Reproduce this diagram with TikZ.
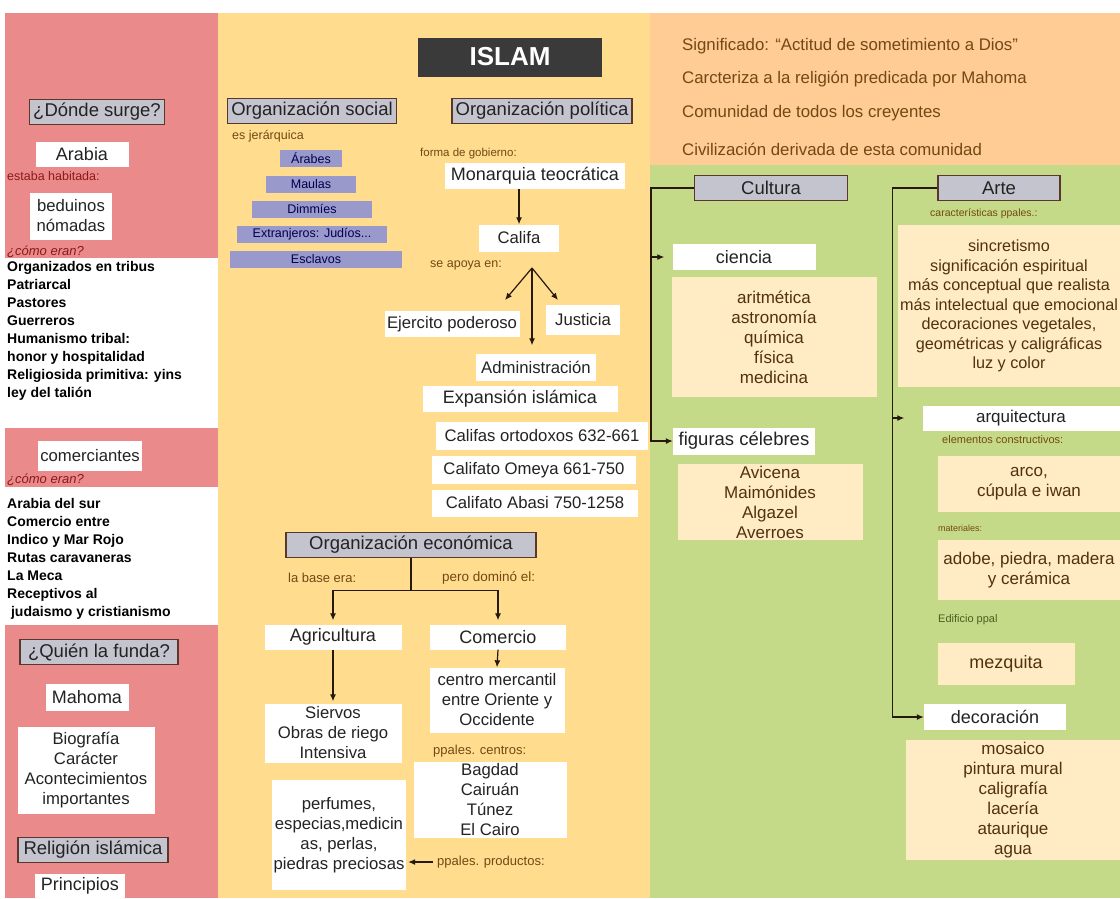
\documentclass[tikz,border=0pt]{standalone}
\usepackage{fontspec}
\setmainfont{Liberation Sans}
\usetikzlibrary{positioning,arrows.meta}

\definecolor{rojo}{RGB}{235,138,138}
\definecolor{amarillo}{RGB}{255,220,142}
\definecolor{naranja}{RGB}{255,204,150}
\definecolor{verde}{RGB}{197,218,137}
\definecolor{crema}{RGB}{255,235,196}
\definecolor{gris}{RGB}{196,196,206}
\definecolor{bordegris}{RGB}{90,55,45}
\definecolor{lila}{RGB}{153,153,204}
\definecolor{marron}{RGB}{115,72,20}
\definecolor{granate}{RGB}{140,25,25}
\definecolor{oliva}{RGB}{70,95,30}
\definecolor{tinta}{RGB}{35,35,35}
\definecolor{islamgris}{RGB}{58,58,58}

\tikzset{
	cabecera/.style={draw=bordegris, fill=gris, line width=1.2pt, minimum width=#1pt, minimum height=25pt, inner sep=0pt, text=tinta, font=\fontsize{18.5}{20}\selectfont},
	caja/.style 2 args={fill=white, minimum width=#1pt, minimum height=#2pt, inner sep=0pt, align=center, text=tinta, font=\fontsize{16.7}{20}\selectfont},
	grande/.style={font=\fontsize{18}{20}\selectfont},
	crem/.style 2 args={fill=crema, minimum width=#1pt, minimum height=#2pt, inner sep=0pt, align=center, text=marron!70!black, font=\fontsize{17}{20}\selectfont},
	piso/.style={fill=lila, minimum width=#1pt, minimum height=17pt, inner sep=0pt, text=black!70!blue, font=\fontsize{12.5}{13}\selectfont},
	nota/.style={anchor=west, inner sep=0pt, text=marron, font=\fontsize{12.5}{14}\selectfont},
	lista/.style={anchor=north west, align=left, inner sep=0pt, text=black, font=\bfseries\fontsize{14}{18}\selectfont},
	frase/.style={anchor=west, inner sep=0pt, text=marron, font=\fontsize{16.8}{18}\selectfont},
	flecha/.style={-{Latex[length=7pt,width=6pt]}, line width=1.2pt, draw=black!80!brown},
	linea/.style={line width=1.2pt, draw=black!80!brown}
}

\begin{document}
\begin{tikzpicture}[x=1pt, y=-1pt]
	\useasboundingbox (0,0) rectangle (1120,898);
	\fill[white] (0,0) rectangle (1120,898);
	\fill[rojo] (5,13) rectangle (218,898);
	\fill[white] (5,258) rectangle (218,428);
	\fill[white] (5,487) rectangle (218,625);
	\fill[amarillo] (218,13) rectangle (650,898);
	\fill[naranja] (650,13) rectangle (1120,165);
	\fill[verde] (650,165) rectangle (1120,898);

	\node[cabecera=135] (surge) at (97,112) {¿Dónde surge?};
	\node[caja={93}{25}, grande] (arabia) at (82,154) {Arabia};
	\node[nota, text=granate] (habitada) at (7,176) {estaba habitada:};
	\node[caja={82}{47}] (beduinos) at (71,216) {beduinos\\nómadas};
	\node[nota, text=granate, font=\itshape\fontsize{13}{14}\selectfont] (como1) at (7,252) {¿cómo eran?};
	\node[lista] (tribus) at (7,261) {Organizados en tribus\\Patriarcal\\Pastores\\Guerreros\\Humanismo tribal:\\honor y hospitalidad\\Religiosida primitiva: yins\\ley del talión};
	\node[caja={104}{30}] (comerciantes) at (90,456) {comerciantes};
	\node[nota, text=granate, font=\itshape\fontsize{13}{14}\selectfont] (como2) at (7,480) {¿cómo eran?};
	\node[lista] (sur) at (7,498) {Arabia del sur\\Comercio entre\\Indico y Mar Rojo\\Rutas caravaneras\\La Meca\\Receptivos al\\\ judaismo y cristianismo};
	\node[cabecera=158] (funda) at (99,652) {¿Quién la funda?};
	\node[caja={83}{27}, grande] (mahoma) at (87,697) {Mahoma};
	\node[caja={137}{87}] (biografia) at (86,770) {Biografía\\Carácter\\Acontecimientos\\importantes};
	\node[cabecera=150] (religion) at (93,850) {Religión islámica};
	\node[caja={90}{24}, font=\fontsize{18}{20}\selectfont] (principios) at (80,886) {Principios};

	\node[fill=islamgris, minimum width=184pt, minimum height=39pt, text=white, font=\bfseries\fontsize{26}{28}\selectfont] (islam) at (510,57) {ISLAM};

	\node[cabecera=169] (orgsoc) at (312,111) {Organización social};
	\node[nota] (jerarquica) at (232,136) {es jerárquica};
	\node[piso=62] (arabes) at (311,158) {Árabes};
	\node[piso=90] (maulas) at (311,184) {Maulas};
	\node[piso=120] (dimmies) at (312,209) {Dimmíes};
	\node[piso=150] (extranjeros) at (312,234) {Extranjeros: Judíos...};
	\node[piso=172] (esclavos) at (316,259) {Esclavos};

	\node[cabecera=180] (orgpol) at (542,111) {Organización política};
	\node[nota, font=\fontsize{11.5}{13}\selectfont] (forma) at (420,154) {forma de gobierno:};
	\node[caja={180}{26}, grande] (monarquia) at (535,176) {Monarquia teocrática};
	\node[caja={80}{27}] (califa) at (519,238) {Califa};
	\node[nota] (apoya) at (430,265) {se apoya en:};
	\coordinate (apoyo) at (532,268);
	\coordinate (haciaej) at (505,300);
	\coordinate (haciaju) at (558,300);
	\node[caja={135}{26}] (ejercito) at (452,324) {Ejercito poderoso};
	\node[caja={74}{30}] (justicia) at (583,320) {Justicia};
	\node[caja={120}{27}] (admin) at (536,367) {Administración};
	\node[caja={195}{26}, grande] (expansion) at (520,399) {Expansión islámica};
	\node[caja={212}{28}] (ortodoxos) at (542,436) {Califas ortodoxos 632-661};
	\node[caja={204}{28}] (omeya) at (534,470) {Califato Omeya 661-750};
	\node[caja={206}{27}] (abasi) at (535,503) {Califato Abasi 750-1258};

	\draw[flecha] (califa.north |- monarquia.south) -- (califa.north);
	\draw[flecha] (apoyo) -- (haciaej);
	\draw[flecha] (apoyo) -- (haciaju);
	\draw[flecha, shorten >=8pt] (apoyo) -- (apoyo |- admin.north);

	\node[cabecera=250] (orgeco) at (411,545) {Organización económica};
	\node[nota, font=\fontsize{13}{14}\selectfont] (base) at (288,578) {la base era:};
	\node[nota, font=\fontsize{13.5}{14}\selectfont] (domino) at (442,578) {pero dominó el:};
	\node[caja={137}{25}, grande] (agricultura) at (333,637) {Agricultura};
	\node[caja={136}{25}, grande] (comercio) at (498,637) {Comercio};
	\node[caja={137}{59}] (siervos) at (333,733) {Siervos\\Obras de riego\\Intensiva};
	\node[caja={135}{65}] (centro) at (497,700) {centro mercantil\\entre Oriente y\\Occidente};
	\node[nota, font=\fontsize{13}{14}\selectfont] (centros) at (433,751) {ppales. centros:};
	\node[caja={153}{76}] (ciudades) at (490,800) {Bagdad\\Cairuán\\Túnez\\El Cairo};
	\node[caja={134}{110}] (productos) at (339,835) {perfumes,\\especias,medicin\\as, perlas,\\piedras preciosas};
	\node[nota, font=\fontsize{13}{14}\selectfont] (ppalprod) at (437,862) {ppales. productos:};

	\draw[linea] (orgeco.south) -- ++(0,32) coordinate (rama);
	\draw[flecha, shorten >=4pt] (rama) -| (agricultura.north);
	\draw[flecha, shorten >=4pt] (rama) -| (comercio.north);
	\draw[flecha, shorten >=2pt] (agricultura.south) -- (siervos.north);
	\draw[flecha] (comercio.south) -- (centro.north);
	\draw[flecha, shorten <=4pt, shorten >=2pt] (ppalprod.west) -- (ppalprod.west -| productos.east);

	\node[frase] (significado) at (682,46) {Significado: ``Actitud de sometimiento a Dios''};
	\node[frase] (caracteriza) at (682,79) {Carcteriza a la religión predicada por Mahoma};
	\node[frase] (comunidad) at (682,113) {Comunidad de todos los creyentes};
	\node[frase] (civilizacion) at (682,149) {Civilización derivada de esta comunidad};

	\node[cabecera=153] (cultura) at (771,188) {Cultura};
	\node[caja={143}{26}, grande] (ciencia) at (744,257) {ciencia};
	\node[crem={205}{120}] (ciencias) at (774,337) {aritmética\\astronomía\\química\\física\\medicina};
	\node[caja={142}{27}, font=\fontsize{18.5}{20}\selectfont] (figuras) at (744,441) {figuras célebres};
	\node[crem={185}{76}] (sabios) at (770,502) {Avicena\\Maimónides\\Algazel\\Averroes};

	\draw[flecha] (cultura.west) -- ++(-43,0) |- (figuras.west);
	\draw[flecha] ([xshift=-21pt]ciencia.west) -- ([xshift=-8pt]ciencia.west);

	\node[cabecera=122] (arte) at (999,188) {Arte};
	\node[nota, font=\fontsize{10.5}{12}\selectfont] (caract) at (930,214) {características ppales.:};
	\node[crem={222}{162}, font=\fontsize{16.2}{19.5}\selectfont] (rasgos) at (1009,306) {sincretismo\\significación espiritual\\más conceptual que realista\\más intelectual que emocional\\decoraciones vegetales,\\geométricas y caligráficas\\luz y color};
	\node[caja={197}{25}, font=\fontsize{17}{20}\selectfont] (arquitectura) at (1021,418) {arquitectura};
	\node[nota, font=\fontsize{11}{12}\selectfont] (elementos) at (942,440) {elementos constructivos:};
	\node[crem={182}{56}] (arco) at (1029,484) {arco,\\cúpula e iwan};
	\node[nota, font=\fontsize{9}{10}\selectfont] (materiales) at (938,528) {materiales:};
	\node[crem={182}{60}] (adobe) at (1029,570) {adobe, piedra, madera\\y cerámica};
	\node[nota, text=oliva, font=\fontsize{11}{12}\selectfont] (edificio) at (938,620) {Edificio ppal};
	\node[crem={137}{42}, grande] (mezquita) at (1006,664) {mezquita};
	\node[caja={142}{26}, grande] (decoracion) at (995,717) {decoración};
	\node[crem={214}{120}] (tecnicas) at (1013,800) {mosaico\\pintura mural\\caligrafía\\lacería\\ataurique\\agua};

	\draw[flecha] (arte.west) -- ++(-45,0) |- (decoracion.west);
	\draw[flecha] ([xshift=-29.5pt]arquitectura.west) -- ([xshift=-18pt]arquitectura.west);
\end{tikzpicture}
\end{document}
